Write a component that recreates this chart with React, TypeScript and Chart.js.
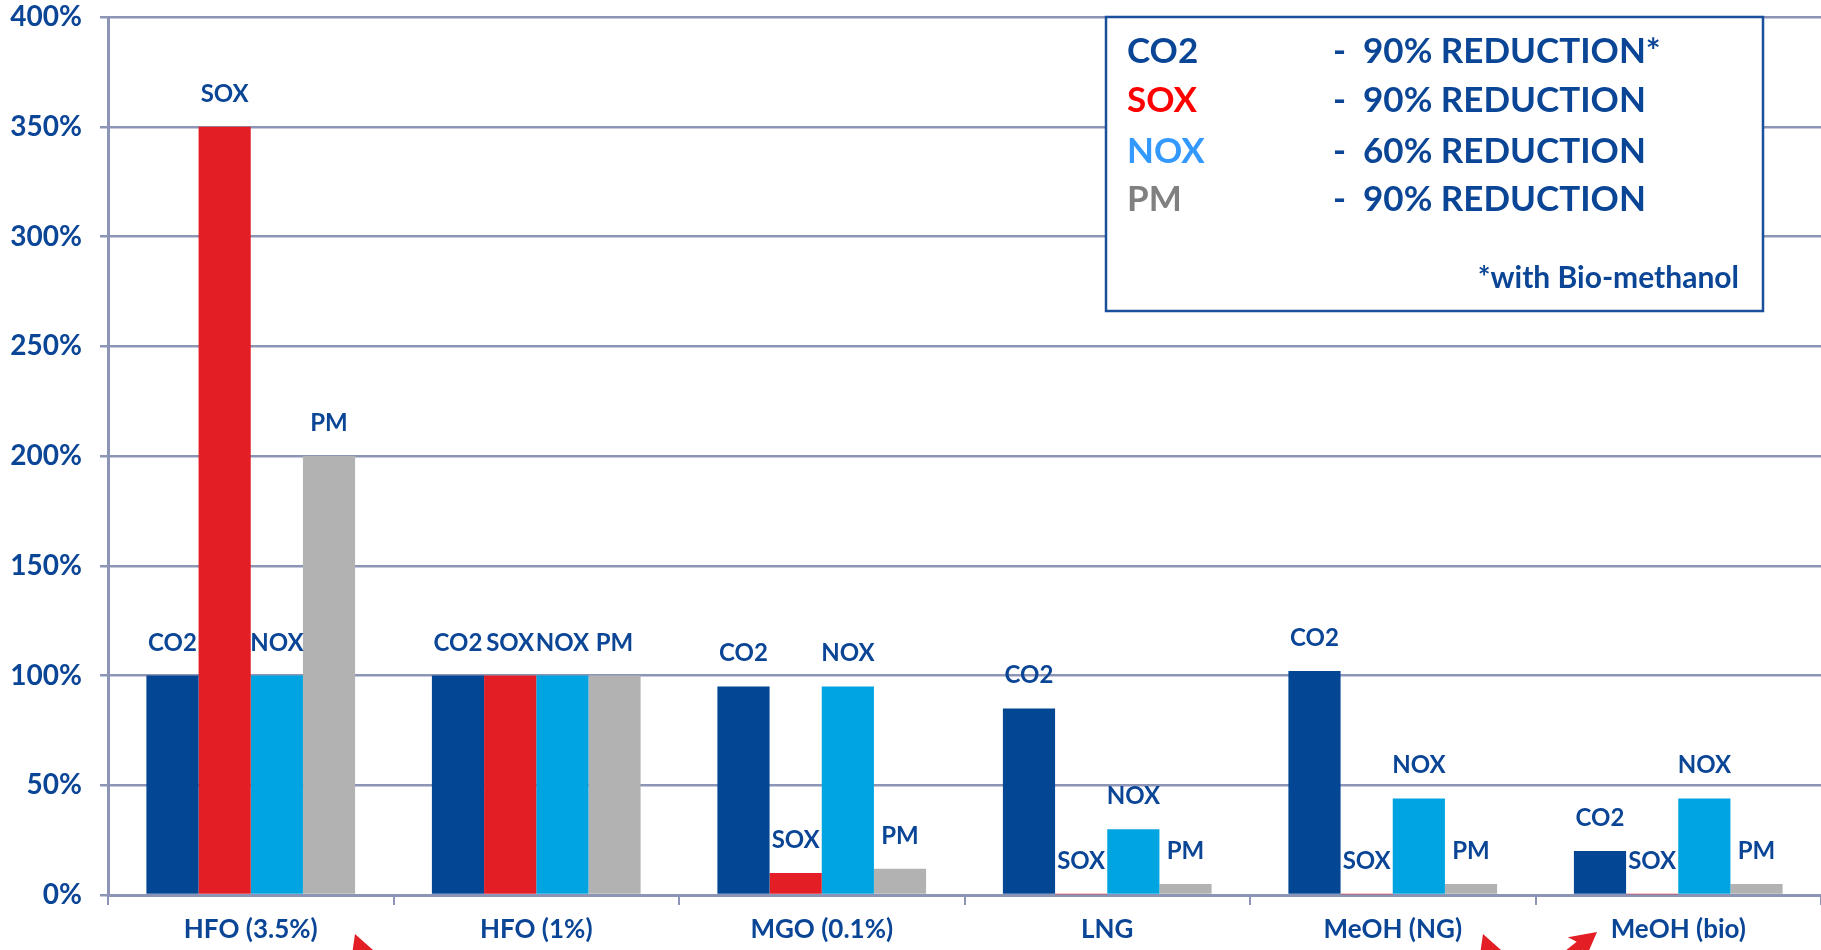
import React, { useEffect, useRef } from "react";
import { Chart, registerables } from "chart.js";

Chart.register(...registerables);

const categories = ["HFO (3.5%)", "HFO (1%)", "MGO (0.1%)", "LNG", "MeOH (NG)", "MeOH (bio)"];
const seriesNames = ["CO2", "SOX", "NOX", "PM"];
const co2Values = [100, 100, 95, 85, 102, 20];
const soxValues = [350, 100, 10, 0.3, 0.3, 0.3];
const noxValues = [100, 100, 95, 30, 44, 44];
const pmValues = [200, 100, 12, 5, 5, 5];
const seriesColors = ["#034694", "#e31e24", "#00a4e0", "#b2b2b2"];
const yTicks = [0, 50, 100, 150, 200, 250, 300, 350, 400];

const legendNames = ["CO2", "SOX", "NOX", "PM"];
const legendNameColors = ["#0b4596", "#ff0000", "#3399ff", "#808080"];
const legendTexts = ["-  90% REDUCTION*", "-  90% REDUCTION", "-  60% REDUCTION", "-  90% REDUCTION"];
const legendFootnote = "*with Bio-methanol";

const TEXT = "#0b4596";
const GRID = "#8d95b6";
const FONT = "Lato";

const labelsPlugin = {
  id: "barNameLabels",
  afterDatasetsDraw(chart: any) {
    const ctx = chart.ctx;
    ctx.save();
    ctx.font = `bold 24px ${FONT}`;
    ctx.fillStyle = TEXT;
    ctx.textAlign = "center";
    ctx.textBaseline = "alphabetic";
    chart.data.datasets.forEach((ds: any, di: number) => {
      const meta = chart.getDatasetMeta(di);
      meta.data.forEach((el: any) => {
        ctx.fillText(ds.label, el.x, el.y - 25);
      });
    });
    ctx.restore();
  },
};

const legendBoxPlugin = {
  id: "legendBox",
  afterDraw(chart: any) {
    const ctx = chart.ctx;
    ctx.save();
    const x0 = 1106, y0 = 17, x1 = 1763, y1 = 311;
    ctx.fillStyle = "#ffffff";
    ctx.fillRect(x0, y0, x1 - x0, y1 - y0);
    ctx.strokeStyle = "#1a4f9c";
    ctx.lineWidth = 2.5;
    ctx.strokeRect(x0, y0, x1 - x0, y1 - y0);
    ctx.font = `bold 35px ${FONT}`;
    ctx.textBaseline = "alphabetic";
    const baselines = [63, 112, 163, 211];
    legendNames.forEach((n, i) => {
      ctx.textAlign = "left";
      ctx.fillStyle = legendNameColors[i];
      ctx.fillText(n, 1127, baselines[i]);
      ctx.fillStyle = TEXT;
      ctx.fillText(legendTexts[i], 1333, baselines[i]);
    });
    ctx.font = `bold 30px ${FONT}`;
    ctx.textAlign = "right";
    ctx.fillStyle = TEXT;
    ctx.fillText(legendFootnote, 1739, 288);

    // red arrow heads (cut off at the bottom)
    ctx.fillStyle = "#e31e24";
    const arrows: [number, number, number][] = [
      [355, 934, -0.35],
      [1483, 934, -0.35],
      [1597, 932, 0.9],
    ];
    arrows.forEach(([tx, ty, ang]) => {
      ctx.save();
      ctx.translate(tx, ty);
      ctx.rotate(ang);
      ctx.beginPath();
      ctx.moveTo(0, 0);
      ctx.lineTo(14, 26);
      ctx.lineTo(5, 22);
      ctx.lineTo(5, 40);
      ctx.lineTo(-5, 40);
      ctx.lineTo(-5, 22);
      ctx.lineTo(-14, 26);
      ctx.closePath();
      ctx.fill();
      ctx.restore();
    });
    ctx.restore();
  },
};

export default function App() {
  const ref = useRef<HTMLCanvasElement | null>(null);
  useEffect(() => {
    document.body.style.margin = "0";
    document.body.style.overflow = "hidden";
    const values = [co2Values, soxValues, noxValues, pmValues];
    const chart = new Chart(ref.current as HTMLCanvasElement, {
      type: "bar",
      data: {
        labels: categories,
        datasets: seriesNames.map((n, i) => ({
          label: n,
          data: values[i],
          backgroundColor: seriesColors[i],
          borderWidth: 0,
          categoryPercentage: 0.731,
          barPercentage: 1,
        })),
      },
      options: {
        animation: false,
        responsive: false,
        layout: { padding: { top: 17, right: 0, left: 0, bottom: 0 } },
        plugins: { legend: { display: false }, tooltip: { enabled: false } },
        scales: {
          x: {
            afterFit: (s: any) => { s.height = 55; s.paddingLeft = 0; s.paddingRight = 0; },
            grid: { display: true, drawOnChartArea: false, drawTicks: true, tickLength: 10, color: GRID, lineWidth: 2, offset: true },
            border: { display: true, color: GRID, width: 3 },
            ticks: { color: TEXT, font: { family: FONT, size: 26, weight: "bold" }, padding: 9 },
          },
          y: {
            min: 0,
            max: 400,
            afterFit: (s: any) => { s.width = 108; s.paddingTop = 0; s.paddingBottom = 0; },
            afterBuildTicks: (s: any) => { s.ticks = yTicks.map((v) => ({ value: v })); },
            grid: { color: GRID, lineWidth: 2.5, tickLength: 8 },
            border: { display: true, color: GRID, width: 3 },
            ticks: {
              color: TEXT,
              font: { family: FONT, size: 28, weight: "bold" },
              padding: 18,
              callback: (v: any) => `${v}%`,
            },
          },
        },
      },
      plugins: [labelsPlugin, legendBoxPlugin],
    } as any);
    return () => chart.destroy();
  }, []);
  return (
    <div style={{ position: "fixed", left: 0, top: 0, width: 1821, height: 950, background: "#fff" }}>
      <canvas ref={ref} width={1821} height={950} />
    </div>
  );
}
